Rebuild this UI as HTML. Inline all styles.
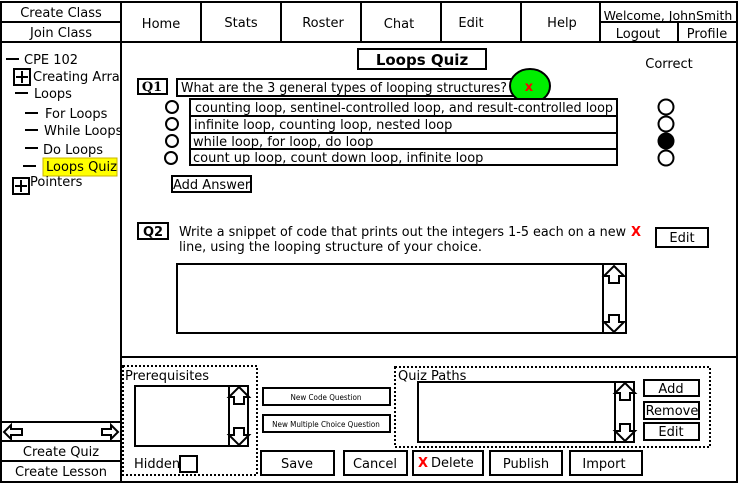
<!DOCTYPE html>
<html><head><meta charset="utf-8"><style>
html,body{margin:0;padding:0;background:#fff}
svg{display:block}
text{font-family:"DejaVu Sans","Liberation Sans",sans-serif;fill:#000}
.c{font-family:"DejaVu Sans Condensed","DejaVu Sans","Liberation Sans Narrow",sans-serif}
</style></head><body>
<svg width="739" height="483" viewBox="0 0 739 483" xmlns="http://www.w3.org/2000/svg">
<defs>
<g id="up"><polygon points="0,0 10,10 5,10 5,17 -5,17 -5,10 -10,10" fill="#fff" stroke="#000" stroke-width="2"/></g>
<g id="dn"><polygon points="0,0 10,-10 5,-10 5,-17 -5,-17 -5,-10 -10,-10" fill="#fff" stroke="#000" stroke-width="2"/></g>
</defs>
<g fill="none" stroke="#000" stroke-width="2">
<rect x="1" y="2" width="120" height="480"/>
<line x1="1" y1="22" x2="121" y2="22"/>
<line x1="1" y1="42" x2="121" y2="42"/>
<line x1="1" y1="422" x2="121" y2="422"/>
<line x1="1" y1="441" x2="121" y2="441"/>
<line x1="1" y1="461" x2="121" y2="461"/>
<rect x="121" y="2" width="616" height="480"/>
<line x1="121" y1="42" x2="737" y2="42"/>
<line x1="201" y1="2" x2="201" y2="42"/>
<line x1="281" y1="2" x2="281" y2="42"/>
<line x1="361" y1="2" x2="361" y2="42"/>
<line x1="441" y1="2" x2="441" y2="42"/>
<line x1="521" y1="2" x2="521" y2="42"/>
<line x1="600" y1="2" x2="600" y2="42"/>
<line x1="600" y1="22" x2="737" y2="22"/>
<line x1="678" y1="22" x2="678" y2="42"/>
<line x1="121" y1="357" x2="737" y2="357"/>
</g>
<g font-size="13">
<text x="61" y="17" text-anchor="middle">Create Class</text>
<text x="61" y="37" text-anchor="middle">Join Class</text>
<text x="161" y="28" text-anchor="middle">Home</text>
<text x="241" y="27" text-anchor="middle">Stats</text>
<text x="323" y="27" text-anchor="middle">Roster</text>
<text x="399" y="28" text-anchor="middle">Chat</text>
<text x="471" y="27" text-anchor="middle">Edit</text>
<text x="562" y="27" text-anchor="middle">Help</text>
<text x="668" y="20" text-anchor="middle" font-size="12.5">Welcome, JohnSmith</text>
<text x="638" y="38" text-anchor="middle">Logout</text>
<text x="707" y="38" text-anchor="middle">Profile</text>
<text x="61" y="456" text-anchor="middle">Create Quiz</text>
<text x="61" y="476" text-anchor="middle">Create Lesson</text>
</g>
<polygon points="4,432 11,425 11,429 22,429 22,435 11,435 11,439" fill="#fff" stroke="#000" stroke-width="2"/>
<polygon points="118,432 111,425 111,429 102,429 102,435 111,435 111,439" fill="#fff" stroke="#000" stroke-width="2"/>
<g stroke="#000" stroke-width="2">
<line x1="6" y1="59" x2="19" y2="59"/>
<line x1="15" y1="93" x2="28" y2="93"/>
<line x1="25" y1="113" x2="38" y2="113"/>
<line x1="25" y1="130" x2="38" y2="130"/>
<line x1="25" y1="148" x2="38" y2="148"/>
<line x1="23" y1="166" x2="36" y2="166"/>
<rect x="14" y="69" width="16" height="16" fill="none"/>
<line x1="16" y1="77" x2="28" y2="77"/><line x1="22" y1="71" x2="22" y2="83"/>
<rect x="13" y="178" width="16" height="16" fill="none"/>
<line x1="15" y1="186" x2="27" y2="186"/><line x1="21" y1="180" x2="21" y2="192"/>
</g>
<rect x="43" y="158" width="74" height="18" fill="#ffff00" stroke="#c8b400" stroke-width="1"/>
<g font-size="13">
<text x="24" y="64">CPE 102</text>
<text x="33" y="81">Creating Arra</text>
<text x="34" y="98">Loops</text>
<text x="45" y="118">For Loops</text>
<text x="44" y="135">While Loops</text>
<text x="43" y="154">Do Loops</text>
<text x="46" y="171">Loops Quiz</text>
<text x="30" y="186">Pointers</text>
</g>
<rect x="358" y="49" width="128" height="20" fill="none" stroke="#000" stroke-width="2"/>
<text x="422" y="65" text-anchor="middle" font-size="15" font-weight="bold">Loops Quiz</text>
<text x="669" y="68" text-anchor="middle" font-size="13">Correct</text>
<rect x="138" y="79" width="29" height="15" fill="none" stroke="#000" stroke-width="2"/>
<text x="152" y="91" text-anchor="middle" font-size="13" font-weight="bold" style="font-family:'DejaVu Serif',serif">Q1</text>
<rect x="177" y="79" width="340" height="17" fill="none" stroke="#000" stroke-width="2"/>
<text x="181" y="92" font-size="13" textLength="326" lengthAdjust="spacingAndGlyphs">What are the 3 general types of looping structures?</text>
<ellipse cx="530" cy="86" rx="20" ry="17" fill="#00ee00" stroke="#000" stroke-width="2"/>
<text x="529" y="91" text-anchor="middle" font-size="13" font-weight="bold" style="fill:#ff0000">x</text>
<g fill="#fff" stroke="#000" stroke-width="2">
<rect x="190" y="99" width="427" height="17"/>
<rect x="190" y="116" width="427" height="17"/>
<rect x="190" y="133" width="427" height="16"/>
<rect x="190" y="149" width="427" height="16"/>
<circle cx="172" cy="107" r="6"/><circle cx="172" cy="124" r="6"/><circle cx="172" cy="141" r="6"/><circle cx="171" cy="158" r="6"/>
<circle cx="666" cy="107" r="7.5"/><circle cx="666" cy="124" r="7.5"/><circle cx="666" cy="141" r="7.5" fill="#000"/><circle cx="666" cy="158" r="7.5"/>
<rect x="172" y="176" width="79" height="16"/>
</g>
<g font-size="13">
<text x="195" y="112" textLength="418" lengthAdjust="spacingAndGlyphs">counting loop, sentinel-controlled loop, and result-controlled loop</text>
<text x="194" y="129">infinite loop, counting loop, nested loop</text>
<text x="193" y="146">while loop, for loop, do loop</text>
<text x="193" y="162">count up loop, count down loop, infinite loop</text>
<text x="173" y="189">Add Answer</text>
</g>
<rect x="138" y="223" width="30" height="16" fill="none" stroke="#000" stroke-width="2"/>
<text x="153" y="236" text-anchor="middle" font-size="13" font-weight="bold">Q2</text>
<text x="179" y="236" font-size="13" textLength="447" lengthAdjust="spacingAndGlyphs">Write a snippet of code that prints out the integers 1-5 each on a new</text>
<text x="631" y="236" font-size="13" font-weight="bold" style="fill:#ff0000">X</text>
<text x="179" y="251" font-size="13" textLength="303" lengthAdjust="spacingAndGlyphs">line, using the looping structure of your choice.</text>
<rect x="656" y="228" width="52" height="19" fill="none" stroke="#000" stroke-width="2"/>
<text x="682" y="242" text-anchor="middle" font-size="13">Edit</text>
<rect x="177" y="264" width="449" height="69" fill="none" stroke="#000" stroke-width="2"/>
<line x1="603" y1="264" x2="603" y2="333" stroke="#000" stroke-width="2"/>
<use href="#up" x="614" y="266"/><use href="#dn" x="614" y="332"/>
<rect x="123" y="366" width="134" height="109" fill="none" stroke="#000" stroke-width="2" stroke-dasharray="2,2"/>
<text x="125" y="380" font-size="13">Prerequisites</text>
<rect x="135" y="386" width="113" height="60" fill="none" stroke="#000" stroke-width="2"/>
<line x1="229" y1="386" x2="229" y2="446" stroke="#000" stroke-width="2"/>
<use href="#up" x="239" y="387"/><use href="#dn" x="239" y="445"/>
<text x="134" y="468" font-size="13">Hidden</text>
<rect x="180" y="456" width="17" height="16" fill="none" stroke="#000" stroke-width="2"/>
<g fill="none" stroke="#000" stroke-width="2">
<rect x="263" y="388" width="127" height="17"/>
<rect x="263" y="415" width="127" height="17"/>
<rect x="261" y="451" width="73" height="24"/>
<rect x="344" y="451" width="63" height="24"/>
<rect x="413" y="451" width="70" height="24"/>
<rect x="490" y="451" width="72" height="24"/>
<rect x="570" y="451" width="72" height="24"/>
<rect x="395" y="367" width="315" height="80" stroke-dasharray="2,2"/>
<rect x="418" y="382" width="216" height="60"/>
<line x1="615" y1="382" x2="615" y2="442"/>
<rect x="644" y="380" width="55" height="16"/>
<rect x="644" y="402" width="55" height="17"/>
<rect x="644" y="423" width="55" height="17"/>
</g>
<use href="#up" x="625" y="383"/><use href="#dn" x="625" y="441"/>
<text x="326" y="400" text-anchor="middle" font-size="8" class="c">New Code Question</text>
<text x="326" y="427" text-anchor="middle" font-size="8" class="c">New Multiple Choice Question</text>
<g font-size="13">
<text x="297" y="468" text-anchor="middle">Save</text>
<text x="375" y="468" text-anchor="middle">Cancel</text>
<text x="418" y="467" font-weight="bold" style="fill:#ff0000">X</text>
<text x="431" y="467">Delete</text>
<text x="526" y="468" text-anchor="middle">Publish</text>
<text x="604" y="468" text-anchor="middle">Import</text>
<text x="398" y="380">Quiz Paths</text>
<text x="671" y="393" text-anchor="middle">Add</text>
<text x="672" y="415" text-anchor="middle">Remove</text>
<text x="671" y="436" text-anchor="middle">Edit</text>
</g>
</svg>
</body></html>
